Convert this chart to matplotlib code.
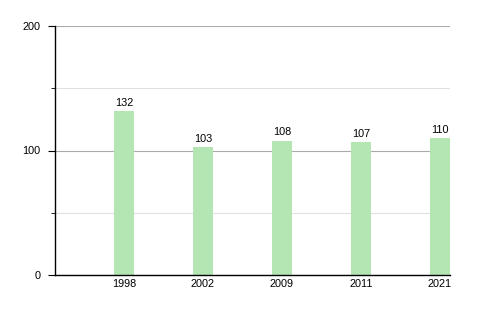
import matplotlib.pyplot as plt
from matplotlib.ticker import MultipleLocator

years = ["1998", "2002", "2009", "2011", "2021"]
values = [132, 103, 108, 107, 110]

plt.rcParams["font.family"] = ["Liberation Sans", "DejaVu Sans"]

fig = plt.figure(figsize=(5, 3.1), dpi=100)
ax = fig.add_axes([55 / 500, 1 - 275 / 310, 395 / 500, 249 / 310])

x = list(range(len(years)))
bars = ax.bar(x, values, width=0.25, color="#b3e6b3", zorder=2)
for xi, v in zip(x, values):
    ax.text(xi, v + 2.5, str(v), ha="center", va="bottom", fontsize=7.8)

ax.set_xlim(-0.873, 4.127)
ax.set_ylim(0, 200)
ax.set_xticks(x)
ax.set_xticklabels(years)
ax.yaxis.set_major_locator(MultipleLocator(100))
ax.yaxis.set_minor_locator(MultipleLocator(50))

ax.grid(axis="y", which="major", color="#aaaaaa", linewidth=0.8, zorder=0)
ax.grid(axis="y", which="minor", color="#e0e0e0", linewidth=0.8, zorder=0)
ax.set_axisbelow(True)

for s in ["top", "right"]:
    ax.spines[s].set_visible(False)
ax.spines["left"].set_linewidth(1)
ax.spines["bottom"].set_linewidth(1)

ax.tick_params(axis="x", length=0, labelsize=7.8, pad=3)
ax.tick_params(axis="y", which="major", length=5, labelsize=7.8, pad=5.5)
ax.tick_params(axis="y", which="minor", length=3)

fig.savefig("out.png", dpi=100)
